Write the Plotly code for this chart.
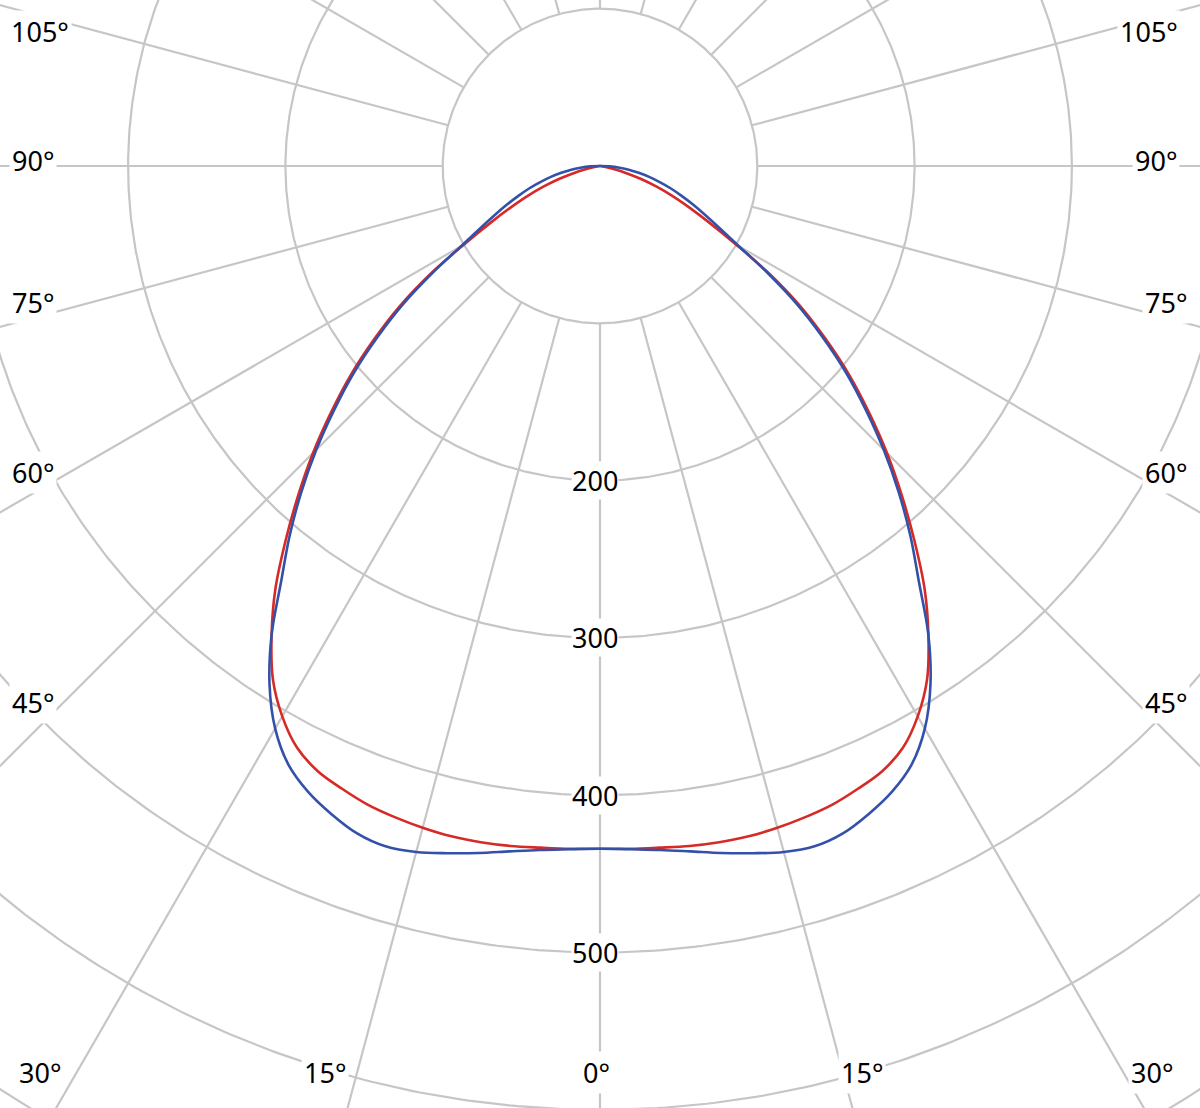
import numpy as np
import plotly.graph_objects as go

# ---- data (luminous intensity, cd/klm) ----
angles_deg = [0, 2.5, 5, 7.5, 10, 12.5, 15, 17.5, 20, 22.5, 25, 27.5, 30, 32.5, 35, 37.5,
              40, 42.5, 45, 47.5, 50, 52.5, 55, 57.5, 60, 62.5, 65, 67.5, 70, 72.5, 75,
              77.5, 80, 82.5, 85, 87.5, 90]
c0_c180 = [434, 434.5, 435, 436, 436.5, 436.5, 435.5, 434, 432, 428.5, 424.5, 417, 404, 387, 364, 339,
           311, 284, 258, 232, 207, 181, 155.5, 128, 100, 79, 63, 50, 38, 27, 17,
           10, 5, 2, 0.5, 0, 0]
c90_c270 = [434, 434.8, 436.5, 439.5, 443.5, 447.5, 451.5, 453.5, 451.5, 446, 439, 429, 413, 391, 364, 333,
            307, 281, 255, 229, 204, 178, 152.5, 126, 102, 86, 74, 64, 55, 47, 39,
            32, 25, 19, 12.5, 6, 0]

radial_ticks = [100, 200, 300, 400, 500, 600, 700, 800]
radial_labels = ["200", "300", "400", "500"]
spoke_step = 15
angle_labels_left = ["105°", "90°", "75°", "60°", "45°"]
angle_labels_bottom = ["30°", "15°", "0°", "15°", "30°"]
angle_labels_right = ["105°", "90°", "75°", "60°", "45°"]

GRID = "#c6c6c6"
RED = "#d62a27"
BLUE = "#3451a9"

W, H = 1200, 1108
PX_PER_UNIT = 1.573
CX, CY = 600, 166  # pole position in pixels

xr = [-CX / PX_PER_UNIT, (W - CX) / PX_PER_UNIT]
yr = [-(H - CY) / PX_PER_UNIT, CY / PX_PER_UNIT]

fig = go.Figure()

# circles
t = np.linspace(0, 2 * np.pi, 721)
for r in radial_ticks:
    fig.add_trace(go.Scatter(x=r * np.cos(t), y=r * np.sin(t), mode="lines",
                             line=dict(color=GRID, width=2.2), hoverinfo="skip", showlegend=False))
# spokes (start at inner circle)
for a in range(0, 360, spoke_step):
    ar = np.radians(a)
    r0, r1 = radial_ticks[0], 1000
    fig.add_trace(go.Scatter(x=[r0 * np.sin(ar), r1 * np.sin(ar)],
                             y=[-r0 * np.cos(ar), -r1 * np.cos(ar)], mode="lines",
                             line=dict(color=GRID, width=2.2), hoverinfo="skip", showlegend=False))


def branch(vals):
    th = np.radians(np.array(angles_deg))
    r = np.array(vals, dtype=float)
    xl = -r * np.sin(th)
    yl = -r * np.cos(th)
    x = np.concatenate([xl[::-1], -xl[1:]])
    y = np.concatenate([yl[::-1], yl[1:]])
    return x, y


for vals, col, name in [(c0_c180, RED, "C0-C180"), (c90_c270, BLUE, "C90-C270")]:
    x, y = branch(vals)
    fig.add_trace(go.Scatter(x=x, y=y, mode="lines", name=name,
                             line=dict(color=col, width=2.6, shape="spline", smoothing=1.0),
                             showlegend=False))

FONT = dict(family="Noto Sans, Liberation Sans, sans-serif", size=27, color="#000000")

for lab in radial_labels:
    v = float(lab)
    fig.add_annotation(x=0, y=-v, xref="x", yref="y", text=lab, showarrow=False,
                       font=FONT, bgcolor="white", borderpad=0, xshift=-5, yshift=0)

left_pos = [(40, 32), (33, 160), (33, 302), (33, 472), (33, 702)]
right_pos = [(1149, 32), (1156, 160), (1166, 302), (1166, 472), (1166, 702)]
bottom_pos = [(40, 1072), (325, 1072), (596, 1072), (862, 1072), (1152, 1072)]


def add_px_label(text, px, py):
    fig.add_annotation(x=px / W, y=1 - py / H, xref="paper", yref="paper", text=text,
                       showarrow=False, font=FONT, bgcolor="white", borderpad=2,
                       xanchor="center", yanchor="middle")


for txt, (px, py) in zip(angle_labels_left, left_pos):
    add_px_label(txt, px, py)
for txt, (px, py) in zip(angle_labels_right, right_pos):
    add_px_label(txt, px, py)
for txt, (px, py) in zip(angle_labels_bottom, bottom_pos):
    add_px_label(txt, px, py)

fig.update_layout(
    width=W, height=H, margin=dict(l=0, r=0, t=0, b=0),
    paper_bgcolor="white", plot_bgcolor="white",
    xaxis=dict(range=xr, visible=False, fixedrange=True),
    yaxis=dict(range=yr, visible=False, fixedrange=True),
    showlegend=False,
)

fig.write_html("out.html", config={"displayModeBar": False},
               post_script="document.body.style.margin='0';document.body.style.overflow='hidden';")
